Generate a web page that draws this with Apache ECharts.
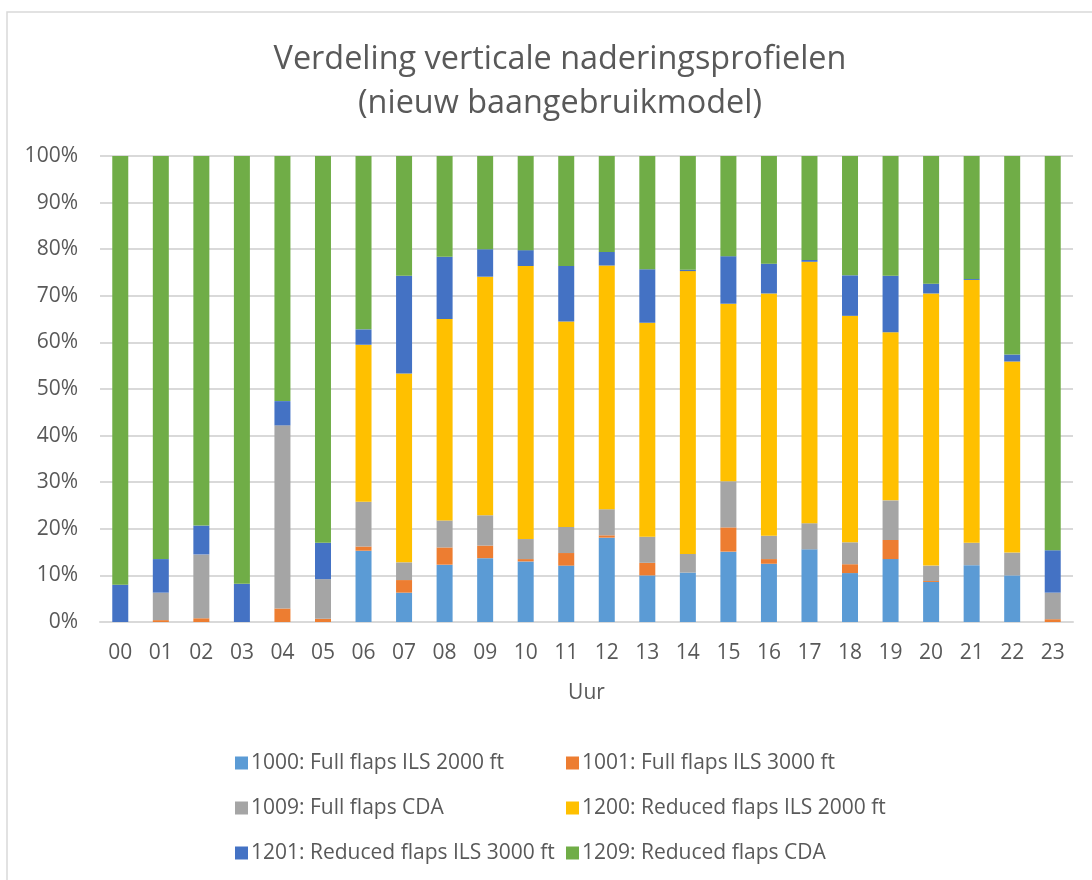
<!DOCTYPE html>
<html>
<head>
<meta charset="utf-8">
<script src="https://cdn.jsdelivr.net/npm/echarts@6/dist/echarts.min.js"></script>
<style>html,body{margin:0;padding:0;background:#fff}#c{width:1092px;height:880px}</style>
</head>
<body>
<div id="c"></div>
<script>
const hours = ['00','01','02','03','04','05','06','07','08','09','10','11','12','13','14','15','16','17','18','19','20','21','22','23'];
const s1000 = [0,0,0,0,0,0,15.3,6.3,12.3,13.7,13.0,12.1,18.1,10.0,10.6,15.1,12.5,15.6,10.5,13.5,8.6,12.2,10.0,0];
const s1001 = [0,0.4,0.8,0,2.9,0.7,0.9,2.7,3.7,2.7,0.5,2.7,0.5,2.7,0,5.2,1.0,0,1.9,4.1,0.2,0,0,0.6];
const s1009 = [0,5.9,13.7,0,39.3,8.5,9.6,3.8,5.8,6.5,4.3,5.6,5.6,5.6,4.0,9.9,5.0,5.6,4.7,8.5,3.3,4.8,4.9,5.7];
const s1200 = [0,0,0,0,0,0,33.7,40.5,43.2,51.2,58.6,44.1,52.3,45.9,60.7,38.1,52.0,56.1,48.6,36.1,58.4,56.4,41.0,0];
const s1201 = [8.0,7.2,6.2,8.2,5.2,7.8,3.3,21.0,13.4,5.9,3.4,11.9,2.9,11.5,0.3,10.2,6.4,0.4,8.7,12.1,2.1,0.2,1.5,9.1];
const s1209 = [92.0,86.5,79.3,91.8,52.6,83.0,37.2,25.7,21.6,20.0,20.2,23.6,20.6,24.3,24.4,21.5,23.1,22.3,25.6,25.7,27.4,26.4,42.6,84.6];
const names = ['1000: Full flaps ILS 2000 ft','1001: Full flaps ILS 3000 ft','1009: Full flaps CDA','1200: Reduced flaps ILS 2000 ft','1201: Reduced flaps ILS 3000 ft','1209: Reduced flaps CDA'];
const colors = ['#5B9BD5','#ED7D31','#A5A5A5','#FFC000','#4472C4','#70AD47'];
const yTicks = ['0%','10%','20%','30%','40%','50%','60%','70%','80%','90%','100%'];
const dataSets = [s1000,s1001,s1009,s1200,s1201,s1209];

const font = 'Open Sans';
const chart = echarts.init(document.getElementById('c'), null, {renderer:'canvas'});
chart.setOption({
  animation:false,
  backgroundColor:'#fff',
  textStyle:{fontFamily:font},
  graphic:[{type:'rect',shape:{x:7,y:12,width:1200,height:1000},style:{fill:'none',stroke:'#d9d9d9',lineWidth:1.5},silent:true}],
  title:{
    text:'Verdeling verticale naderingsprofielen\n(nieuw baangebruikmodel)',
    left:555, top:33, textAlign:'center',
    textStyle:{fontFamily:font,fontSize:32.4,fontWeight:'normal',color:'#595959',lineHeight:44}
  },
  grid:{left:100,right:19,top:156,bottom:258,containLabel:false},
  legend:[
    {data:[names[0],names[2],names[4]],orient:'vertical',left:230,top:744,itemWidth:13,itemHeight:13,itemGap:17,icon:'rect',
     textStyle:{fontFamily:font,fontSize:21,color:'#595959',lineHeight:28,padding:[0,0,0,-2]}},
    {data:[names[1],names[3],names[5]],orient:'vertical',left:561,top:744,itemWidth:13,itemHeight:13,itemGap:17,icon:'rect',
     textStyle:{fontFamily:font,fontSize:21,color:'#595959',lineHeight:28,padding:[0,0,0,-2]}}
  ],
  xAxis:{
    type:'category',data:hours,
    axisLine:{lineStyle:{color:'#d9d9d9',width:2}},
    axisTick:{show:false},
    axisLabel:{color:'#595959',fontSize:21,margin:21,fontFamily:font},
    name:'Uur',nameLocation:'middle',nameGap:61,
    nameTextStyle:{color:'#595959',fontSize:21,fontFamily:font}
  },
  yAxis:{
    type:'value',min:0,max:100,interval:10,
    axisLabel:{color:'#595959',fontSize:21,margin:22,fontFamily:font,formatter:function(v){return yTicks[Math.round(v/10)];}},
    axisLine:{show:false},axisTick:{show:false},
    splitLine:{lineStyle:{color:'#d9d9d9',width:2}}
  },
  series:dataSets.map(function(d,i){return {
    name:names[i],type:'bar',stack:'total',data:d,barWidth:16,
    itemStyle:{color:colors[i]}
  };})
});
</script>
</body>
</html>
